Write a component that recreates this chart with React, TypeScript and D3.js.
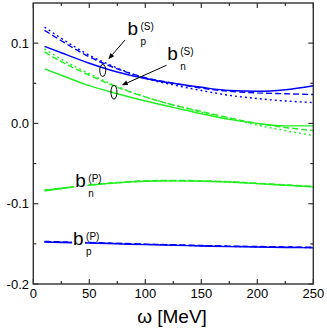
import React from "react";
import * as d3 from "d3";

const omega = [10, 25, 50, 75, 100, 125, 150, 175, 200, 225, 250];

const bpS_solid = [0.096, 0.088, 0.075, 0.064, 0.056, 0.05, 0.045, 0.041, 0.04, 0.042, 0.047];
const bpS_dashed = [0.116, 0.103, 0.083, 0.068, 0.057, 0.05, 0.044, 0.04, 0.038, 0.037, 0.036];
const bpS_dotted = [0.12, 0.106, 0.085, 0.069, 0.056, 0.048, 0.041, 0.035, 0.031, 0.028, 0.026];

const bnS_solid = [0.068, 0.06, 0.047, 0.037, 0.028, 0.02, 0.012, 0.005, 0.0, -0.003, -0.003];
const bnS_dashed = [0.089, 0.077, 0.06, 0.045, 0.033, 0.023, 0.015, 0.007, 0.0, -0.005, -0.009];
const bnS_dotted = [0.093, 0.08, 0.062, 0.046, 0.033, 0.023, 0.014, 0.006, -0.002, -0.009, -0.015];

const bnP_solid = [-0.084, -0.081, -0.077, -0.074, -0.072, -0.0715, -0.072, -0.073, -0.075, -0.077, -0.079];
const bnP_dashed = [-0.083, -0.0805, -0.0765, -0.0735, -0.0715, -0.071, -0.0715, -0.0725, -0.0745, -0.0765, -0.0785];
const bnP_dotted = [-0.0835, -0.081, -0.077, -0.074, -0.072, -0.0713, -0.0718, -0.0728, -0.0748, -0.0768, -0.0788];

const bpP_solid = [-0.1478, -0.1483, -0.149, -0.15, -0.151, -0.1518, -0.1527, -0.1535, -0.154, -0.1545, -0.155];
const bpP_dashed = [-0.147, -0.1475, -0.1483, -0.1493, -0.1503, -0.1512, -0.152, -0.1528, -0.1533, -0.1538, -0.1543];
const bpP_dotted = [-0.1473, -0.1478, -0.1486, -0.1496, -0.1506, -0.1515, -0.1523, -0.1531, -0.1536, -0.1541, -0.1546];

const xTicks = [0, 50, 100, 150, 200, 250];
const xMinor = [25, 75, 125, 175, 225];
const yTicks = [0.1, 0.0, -0.1, -0.2];
const yMinor = [0.05, -0.05, -0.15];
const yTickLabels = ["0.1", "0.0", "-0.1", "-0.2"];

const BLUE = "#0000ff";
const GREEN = "#22ee22";

export default function App() {
  const left = 33.3, right = 313.3, top = 3, bottom = 284;
  const x = d3.scaleLinear().domain([0, 250]).range([left, right]);
  const y = d3.scaleLinear().domain([-0.2, 0.15]).range([bottom, top]);
  const line = d3
    .line<number>()
    .x((_, i) => x(omega[i]))
    .y((d) => y(d))
    .curve(d3.curveMonotoneX);

  const series = [
    { v: bpS_solid, c: BLUE, dash: "" },
    { v: bpS_dashed, c: BLUE, dash: "6,3" },
    { v: bpS_dotted, c: BLUE, dash: "2,3" },
    { v: bnS_solid, c: GREEN, dash: "" },
    { v: bnS_dashed, c: GREEN, dash: "6,3" },
    { v: bnS_dotted, c: GREEN, dash: "2,3" },
    { v: bnP_solid, c: GREEN, dash: "" },
    { v: bnP_dashed, c: GREEN, dash: "6,3" },
    { v: bnP_dotted, c: GREEN, dash: "2,3" },
    { v: bpP_solid, c: BLUE, dash: "" },
    { v: bpP_dashed, c: BLUE, dash: "6,3" },
    { v: bpP_dotted, c: BLUE, dash: "2,3" },
  ];

  const axisColor = "#333";
  const font = "Liberation Sans, Arial, sans-serif";

  const label = (w: number, v: number, sup: string, sub: string, bg: boolean) => {
    const bx = x(w), by = y(v);
    return (
      <g fontFamily={font} fill="#000">
        {bg && <rect x={bx - 1} y={by - 14} width={13} height={17} fill="#fff" />}
        <text x={bx} y={by} fontSize={19}>b</text>
        <text x={bx + 13} y={by - 5} fontSize={10}>{sup}</text>
        <text x={bx + 13} y={by + 10} fontSize={10}>{sub}</text>
      </g>
    );
  };

  const arrow = (w0: number, v0: number, w1: number, v1: number) => {
    const x0 = x(w0), y0 = y(v0), x1 = x(w1), y1 = y(v1);
    const ang = Math.atan2(y1 - y0, x1 - x0);
    const L = 6, W = 2.5;
    const bxp = x1 - L * Math.cos(ang), byp = y1 - L * Math.sin(ang);
    const p1 = [bxp + W * Math.sin(ang), byp - W * Math.cos(ang)];
    const p2 = [bxp - W * Math.sin(ang), byp + W * Math.cos(ang)];
    return (
      <g>
        <line x1={x0} y1={y0} x2={bxp} y2={byp} stroke="#000" strokeWidth={1} />
        <polygon points={`${x1},${y1} ${p1[0]},${p1[1]} ${p2[0]},${p2[1]}`} fill="#000" />
      </g>
    );
  };

  return (
    <svg width={327} height={332} style={{ position: "absolute", left: 0, top: 0, background: "#fff" }}>
      <g>
        {series.map((s, i) => (
          <path key={i} d={line(s.v) || ""} fill="none" stroke={s.c} strokeWidth={1.4} strokeDasharray={s.dash} />
        ))}
      </g>

      {/* annotations */}
      <ellipse cx={x(62)} cy={y(0.066)} rx={3} ry={6} fill="none" stroke="#000" strokeWidth={1} />
      <ellipse cx={x(72)} cy={y(0.039)} rx={3} ry={7} fill="none" stroke="#000" strokeWidth={1} />
      {arrow(82, 0.104, 67, 0.08)}
      {arrow(119, 0.0725, 79, 0.0475)}
      {label(84, 0.11, "(S)", "p", false)}
      {label(119.5, 0.079, "(S)", "n", false)}
      {label(37.5, -0.0795, "(P)", "n", true)}
      {label(35.5, -0.152, "(P)", "p", true)}

      {/* frame */}
      <rect x={left} y={top} width={right - left} height={bottom - top} fill="none" stroke={axisColor} strokeWidth={1.4} />
      {xTicks.map((t) => (
        <g key={"x" + t}>
          <line x1={x(t)} x2={x(t)} y1={bottom} y2={bottom - 5} stroke={axisColor} strokeWidth={1.2} />
          <line x1={x(t)} x2={x(t)} y1={top} y2={top + 5} stroke={axisColor} strokeWidth={1.2} />
          <text x={x(t)} y={298} fontSize={13} fontFamily={font} textAnchor="middle">{t}</text>
        </g>
      ))}
      {xMinor.map((t) => (
        <g key={"xm" + t}>
          <line x1={x(t)} x2={x(t)} y1={bottom} y2={bottom - 3} stroke={axisColor} strokeWidth={1.2} />
          <line x1={x(t)} x2={x(t)} y1={top} y2={top + 3} stroke={axisColor} strokeWidth={1.2} />
        </g>
      ))}
      {yTicks.map((t, i) => (
        <g key={"y" + t}>
          <line x1={left} x2={left + 5} y1={y(t)} y2={y(t)} stroke={axisColor} strokeWidth={1.2} />
          <line x1={right} x2={right - 5} y1={y(t)} y2={y(t)} stroke={axisColor} strokeWidth={1.2} />
          <text x={29} y={y(t) + 4.5} fontSize={13} fontFamily={font} textAnchor="end">{yTickLabels[i]}</text>
        </g>
      ))}
      {yMinor.map((t) => (
        <g key={"ym" + t}>
          <line x1={left} x2={left + 3} y1={y(t)} y2={y(t)} stroke={axisColor} strokeWidth={1.2} />
          <line x1={right} x2={right - 3} y1={y(t)} y2={y(t)} stroke={axisColor} strokeWidth={1.2} />
        </g>
      ))}
      <text x={172} y={323} fontSize={19} fontFamily={font} textAnchor="middle">ω [MeV]</text>
    </svg>
  );
}
